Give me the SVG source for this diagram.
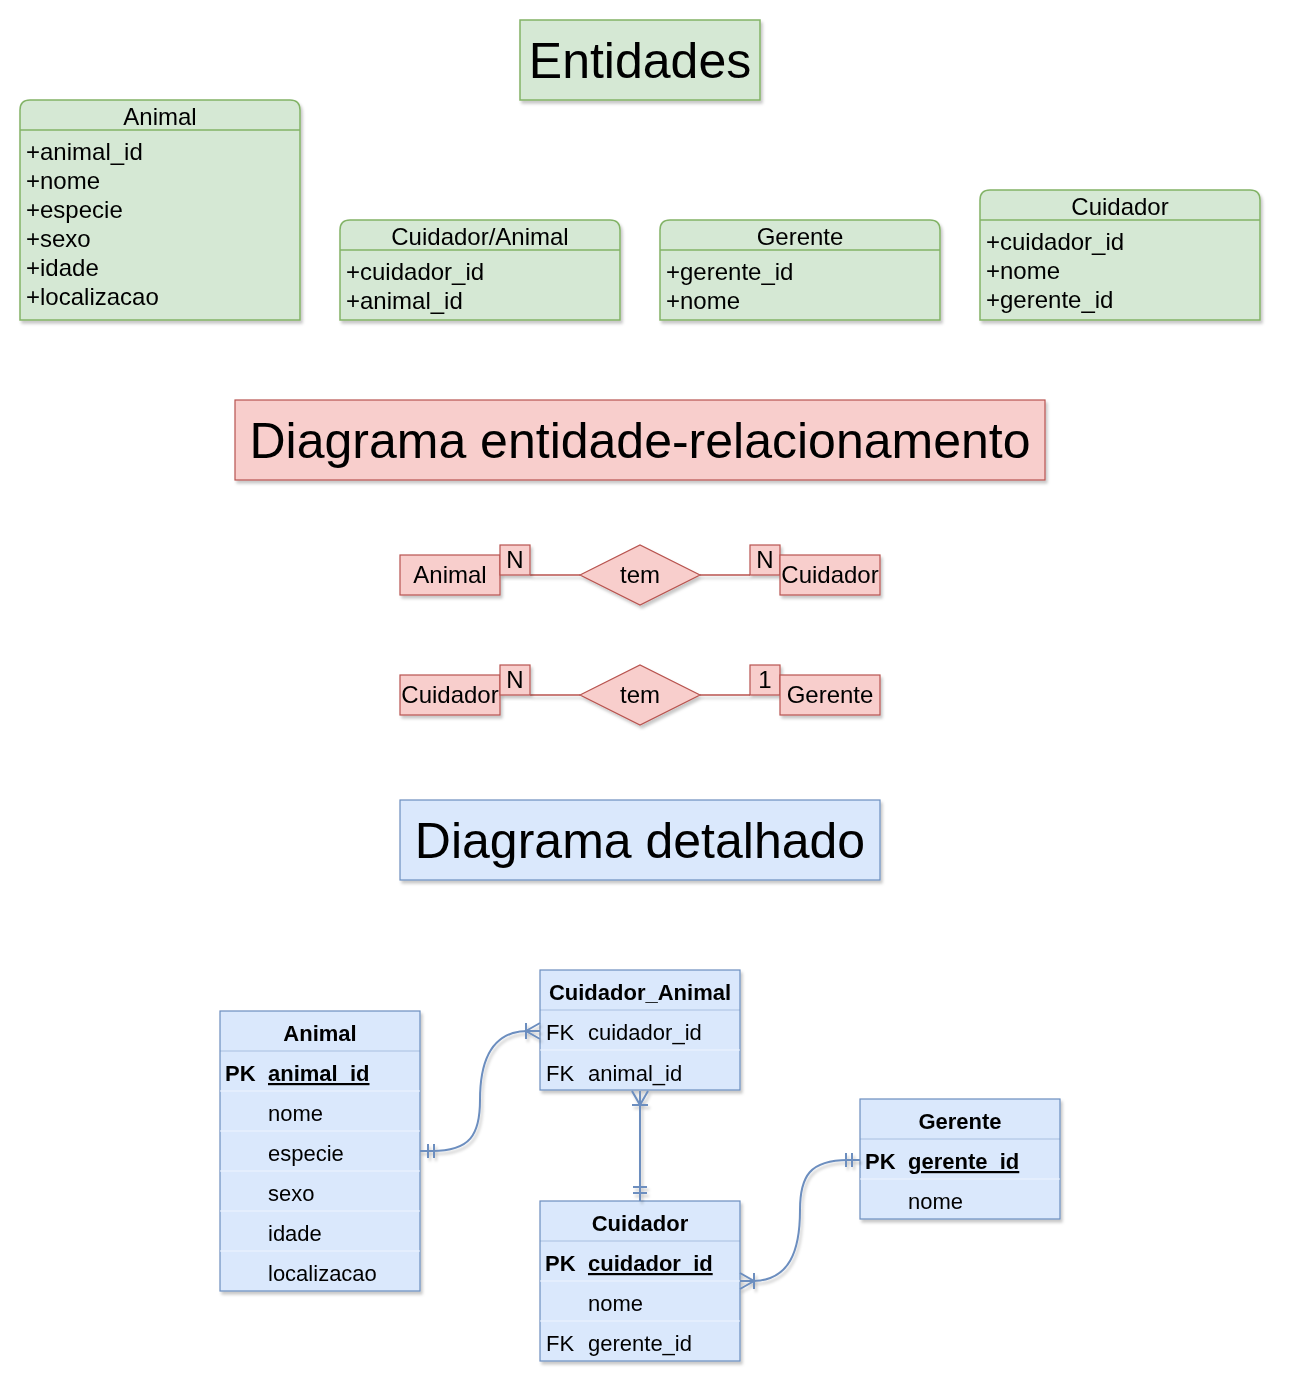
<svg xmlns="http://www.w3.org/2000/svg" width="1293" height="1393" viewBox="0 0 1293 1393">
<defs>
<filter id="sh" x="-10%" y="-10%" width="130%" height="130%">
<feDropShadow dx="2" dy="3" stdDeviation="1.5" flood-color="#000" flood-opacity="0.22"/>
</filter>
<marker id="one" viewBox="-20 -10 22 20" refX="0" refY="0" markerWidth="22" markerHeight="20" markerUnits="userSpaceOnUse" orient="auto-start-reverse" overflow="visible">
<path d="M-8,-7 L-8,7 M-14,-7 L-14,7" stroke="#6c8ebf" stroke-width="2" fill="none"/>
</marker>
<marker id="many" viewBox="-20 -10 22 20" refX="0" refY="0" markerWidth="22" markerHeight="20" markerUnits="userSpaceOnUse" orient="auto-start-reverse" overflow="visible">
<path d="M0,-8 L-14,0 L0,8 M-14,-8 L-14,8" stroke="#6c8ebf" stroke-width="2" fill="none"/>
</marker>
</defs>
<style>
text{font-family:"Liberation Sans",Arial,sans-serif;fill:#000}
.g{fill:#d5e8d4;stroke:#82b366;stroke-width:1.5}
.gl{stroke:#82b366;stroke-width:1.5}
.r{fill:#f8cecc;stroke:#b85450;stroke-width:1.2}
.b{fill:#dae8fc;stroke:#6c8ebf;stroke-width:1.2}
.hs{stroke:#6c8ebf;stroke-width:1;opacity:0.45}
.rs{stroke:#eef4fe;stroke-width:1}
.t24{font-size:24px}
.t22{font-size:22px}
.t50{font-size:50px}
.c{text-anchor:middle}
.bd{font-weight:bold}
.u{text-decoration:underline}
.er{stroke:#b85450;stroke-width:1.5;fill:none}
.con{stroke:#6c8ebf;stroke-width:2;fill:none}
</style>

<g id="title-entidades" filter="url(#sh)">
<rect x="520" y="20" width="240" height="80" class="g"/>
<text x="640" y="78" class="t50 c">Entidades</text>
</g>

<g id="ent-animal" filter="url(#sh)">
<path d="M20,320 L20,110 Q20,100 30,100 L290,100 Q300,100 300,110 L300,320 Z" class="g"/>
<line x1="20" y1="130" x2="300" y2="130" class="gl"/>
<text x="160" y="125" class="t24 c">Animal</text>
<text x="26" y="160" class="t24">+animal_id</text>
<text x="26" y="189" class="t24">+nome</text>
<text x="26" y="218" class="t24">+especie</text>
<text x="26" y="247" class="t24">+sexo</text>
<text x="26" y="276" class="t24">+idade</text>
<text x="26" y="305" class="t24">+localizacao</text>
</g>

<g id="ent-cuidador-animal" filter="url(#sh)">
<path d="M340,320 L340,230 Q340,220 350,220 L610,220 Q620,220 620,230 L620,320 Z" class="g"/>
<line x1="340" y1="250" x2="620" y2="250" class="gl"/>
<text x="480" y="245" class="t24 c">Cuidador/Animal</text>
<text x="346" y="280" class="t24">+cuidador_id</text>
<text x="346" y="309" class="t24">+animal_id</text>
</g>

<g id="ent-gerente" filter="url(#sh)">
<path d="M660,320 L660,230 Q660,220 670,220 L930,220 Q940,220 940,230 L940,320 Z" class="g"/>
<line x1="660" y1="250" x2="940" y2="250" class="gl"/>
<text x="800" y="245" class="t24 c">Gerente</text>
<text x="666" y="280" class="t24">+gerente_id</text>
<text x="666" y="309" class="t24">+nome</text>
</g>

<g id="ent-cuidador" filter="url(#sh)">
<path d="M980,320 L980,200 Q980,190 990,190 L1250,190 Q1260,190 1260,200 L1260,320 Z" class="g"/>
<line x1="980" y1="220" x2="1260" y2="220" class="gl"/>
<text x="1120" y="215" class="t24 c">Cuidador</text>
<text x="986" y="250" class="t24">+cuidador_id</text>
<text x="986" y="279" class="t24">+nome</text>
<text x="986" y="308" class="t24">+gerente_id</text>
</g>

<g id="title-er" filter="url(#sh)">
<rect x="235" y="400" width="810" height="80" class="r"/>
<text x="640" y="458" class="t50 c">Diagrama entidade-relacionamento</text>
</g>

<g id="er-connectors" filter="url(#sh)">
<line x1="530" y1="575" x2="580" y2="575" class="er"/>
<line x1="700" y1="575" x2="750" y2="575" class="er"/>
<line x1="530" y1="695" x2="580" y2="695" class="er"/>
<line x1="700" y1="695" x2="750" y2="695" class="er"/>
</g>

<g id="er1-animal" filter="url(#sh)">
<rect x="400" y="555" width="100" height="40" class="r"/>
<text x="450" y="583" class="t24 c">Animal</text>
</g>
<g id="er1-n1" filter="url(#sh)">
<rect x="500" y="545" width="30" height="30" class="r"/>
<text x="515" y="568" class="t24 c">N</text>
</g>
<g id="er1-tem" filter="url(#sh)">
<polygon points="580,575 640,545 700,575 640,605" class="r"/>
<text x="640" y="583" class="t24 c">tem</text>
</g>
<g id="er1-n2" filter="url(#sh)">
<rect x="750" y="545" width="30" height="30" class="r"/>
<text x="765" y="568" class="t24 c">N</text>
</g>
<g id="er1-cuidador" filter="url(#sh)">
<rect x="780" y="555" width="100" height="40" class="r"/>
<text x="830" y="583" class="t24 c">Cuidador</text>
</g>

<g id="er2-cuidador" filter="url(#sh)">
<rect x="400" y="675" width="100" height="40" class="r"/>
<text x="450" y="703" class="t24 c">Cuidador</text>
</g>
<g id="er2-n" filter="url(#sh)">
<rect x="500" y="665" width="30" height="30" class="r"/>
<text x="515" y="688" class="t24 c">N</text>
</g>
<g id="er2-tem" filter="url(#sh)">
<polygon points="580,695 640,665 700,695 640,725" class="r"/>
<text x="640" y="703" class="t24 c">tem</text>
</g>
<g id="er2-1" filter="url(#sh)">
<rect x="750" y="665" width="30" height="30" class="r"/>
<text x="765" y="688" class="t24 c">1</text>
</g>
<g id="er2-gerente" filter="url(#sh)">
<rect x="780" y="675" width="100" height="40" class="r"/>
<text x="830" y="703" class="t24 c">Gerente</text>
</g>

<g id="title-detalhado" filter="url(#sh)">
<rect x="400" y="800" width="480" height="80" class="b"/>
<text x="640" y="858" class="t50 c">Diagrama detalhado</text>
</g>

<g id="tbl-animal" filter="url(#sh)">
<rect x="220" y="1011" width="200" height="280" class="b"/>
<line x1="220" y1="1051" x2="420" y2="1051" class="hs"/>
<line x1="220" y1="1091" x2="420" y2="1091" class="rs"/>
<line x1="220" y1="1131" x2="420" y2="1131" class="rs"/>
<line x1="220" y1="1171" x2="420" y2="1171" class="rs"/>
<line x1="220" y1="1211" x2="420" y2="1211" class="rs"/>
<line x1="220" y1="1251" x2="420" y2="1251" class="rs"/>
<text x="320" y="1041" class="t22 c bd">Animal</text>
<text x="225" y="1081" class="t22 bd">PK</text>
<text x="268" y="1081" class="t22 bd u">animal_id</text>
<text x="268" y="1121" class="t22">nome</text>
<text x="268" y="1161" class="t22">especie</text>
<text x="268" y="1201" class="t22">sexo</text>
<text x="268" y="1241" class="t22">idade</text>
<text x="268" y="1281" class="t22">localizacao</text>
</g>

<g id="tbl-cuidador-animal" filter="url(#sh)">
<rect x="540" y="970" width="200" height="120" class="b"/>
<line x1="540" y1="1010" x2="740" y2="1010" class="hs"/>
<line x1="540" y1="1050" x2="740" y2="1050" class="rs"/>
<text x="640" y="1000" class="t22 c bd">Cuidador_Animal</text>
<text x="546" y="1040" class="t22">FK</text>
<text x="588" y="1040" class="t22">cuidador_id</text>
<text x="546" y="1081" class="t22">FK</text>
<text x="588" y="1081" class="t22">animal_id</text>
</g>

<g id="tbl-cuidador" filter="url(#sh)">
<rect x="540" y="1201" width="200" height="160" class="b"/>
<line x1="540" y1="1241" x2="740" y2="1241" class="hs"/>
<line x1="540" y1="1281" x2="740" y2="1281" class="rs"/>
<line x1="540" y1="1321" x2="740" y2="1321" class="rs"/>
<text x="640" y="1231" class="t22 c bd">Cuidador</text>
<text x="545" y="1271" class="t22 bd">PK</text>
<text x="588" y="1271" class="t22 bd u">cuidador_id</text>
<text x="588" y="1311" class="t22">nome</text>
<text x="546" y="1351" class="t22">FK</text>
<text x="588" y="1351" class="t22">gerente_id</text>
</g>

<g id="tbl-gerente" filter="url(#sh)">
<rect x="860" y="1099" width="200" height="120" class="b"/>
<line x1="860" y1="1139" x2="1060" y2="1139" class="hs"/>
<line x1="860" y1="1179" x2="1060" y2="1179" class="rs"/>
<text x="960" y="1129" class="t22 c bd">Gerente</text>
<text x="865" y="1169" class="t22 bd">PK</text>
<text x="908" y="1169" class="t22 bd u">gerente_id</text>
<text x="908" y="1209" class="t22">nome</text>
</g>

<g id="connectors" filter="url(#sh)">
<path d="M420,1151 L432,1151 C470,1151 480,1135 480,1100 C480,1060 492,1031 528,1031 L540,1031" class="con" marker-start="url(#one)" marker-end="url(#many)"/>
<path d="M640,1201 L640,1091" class="con" marker-start="url(#one)" marker-end="url(#many)"/>
<path d="M860,1160 L848,1160 C810,1160 800,1176 800,1210 C800,1250 790,1281 752,1281 L740,1281" class="con" marker-start="url(#one)" marker-end="url(#many)"/>
</g>
</svg>
